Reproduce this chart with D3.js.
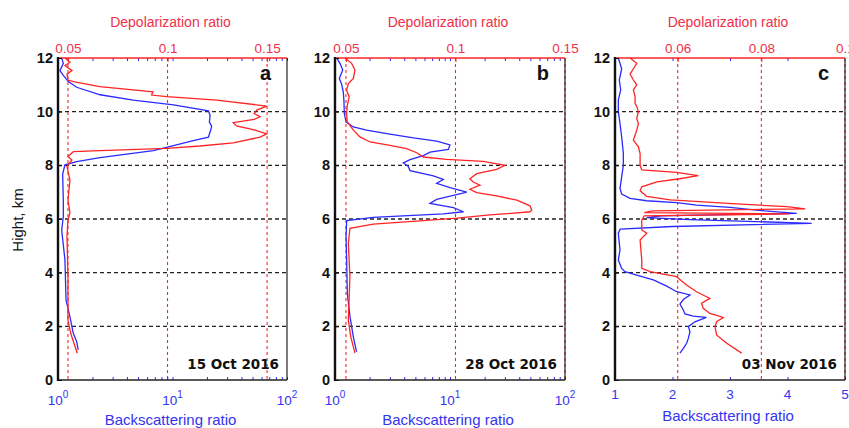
<!DOCTYPE html>
<html>
<head>
  <script src="https://d3js.org/d3.v7.min.js"></script>
  <style>
    body { margin: 0; background: #fff; }
    text { font-family: "Liberation Sans", Arial, sans-serif; }
    .ytick text { font-size: 14.5px; font-weight: bold; fill: #111; }
    .dtick text { font-size: 13.5px; fill: #f03048; }
    .btick { font-size: 13.5px; fill: #3434f0; }
    .dtitle { font-size: 14px; fill: #f03048; }
    .btitle { font-size: 15px; fill: #3434f0; }
    .letter { font-size: 20px; font-weight: bold; fill: #111; }
    .date { font-family: "DejaVu Sans", Verdana, sans-serif; font-size: 13.5px; font-weight: bold; fill: #111; }
  </style>
</head>
<body>
  <svg id="chart" width="849" height="428"></svg>
  <script>
    // tick values and labels
    var heightTicks = [0, 2, 4, 6, 8, 10, 12];
    var gridHeights = [2, 4, 6, 8, 10];
    var depolTicksAB = [0.05, 0.1, 0.15];
    var depolTicksC = [0.06, 0.08, 0.1];
    var bsrTicksLog = [1, 10, 100];
    var bsrTicksC = [1, 2, 3, 4, 5];
    var panelLetters = ['a', 'b', 'c'];
    var panelDates = ['15 Oct 2016', '28 Oct 2016', '03 Nov 2016'];

    // profiles: [height km, value]
    var depolA = [[12, 0.0485], [11.84, 0.051], [11.72, 0.0485], [11.53, 0.052], [11.4, 0.0495], [11.18, 0.050],
      [11.12, 0.0527], [10.93, 0.066], [10.81, 0.0827], [10.74, 0.0927], [10.62, 0.092], [10.56, 0.0996],
      [10.43, 0.1247], [10.21, 0.1498], [10.06, 0.1448], [9.93, 0.1435], [9.81, 0.1465], [9.71, 0.1435],
      [9.59, 0.133], [9.47, 0.1347], [9.32, 0.1435], [9.17, 0.1498], [9.05, 0.1465], [8.84, 0.133],
      [8.72, 0.1163], [8.63, 0.0996], [8.55, 0.066], [8.51, 0.0527], [8.33, 0.050], [8.2, 0.052],
      [7.96, 0.0495], [7.45, 0.051], [6.71, 0.050], [6.22, 0.051], [5.96, 0.050], [5.34, 0.0495],
      [3.85, 0.050], [2.23, 0.050], [1.74, 0.0514], [1.37, 0.053], [1.0, 0.0547]];
    var bsrA = [[12, 1.077], [11.8, 1.113], [11.53, 1.041], [11.35, 1.113], [11.12, 1.23], [10.91, 1.456],
      [10.63, 2.33], [10.43, 4.55], [10.25, 10.2], [10.03, 20.6], [9.86, 21.3], [9.61, 21.0], [9.45, 22.0],
      [9.24, 21.3], [9.05, 20.6], [8.92, 15.2], [8.73, 10.2], [8.55, 6.8], [8.42, 3.98], [8.29, 2.33],
      [8.14, 1.456], [8.02, 1.15], [7.67, 1.098], [6.67, 1.113], [6.09, 1.113], [5.59, 1.077], [4.47, 1.15],
      [2.98, 1.175], [2.36, 1.27], [1.74, 1.36], [1.43, 1.456], [1.12, 1.5]];
    var depolB = [[12, 0.0496], [11.8, 0.0526], [11.55, 0.0541], [11.24, 0.0534], [11.05, 0.0511], [10.8, 0.0503],
      [10.55, 0.0515], [10.24, 0.0506], [9.93, 0.0503], [9.62, 0.0506], [9.31, 0.0534], [9.06, 0.0564],
      [8.87, 0.061], [8.74, 0.0701], [8.62, 0.0777], [8.47, 0.0823], [8.31, 0.0853], [8.22, 0.096],
      [8.15, 0.1127], [8.0, 0.1226], [7.85, 0.1188], [7.69, 0.1097], [7.5, 0.1066], [7.38, 0.1081],
      [7.26, 0.1112], [7.11, 0.1066], [6.98, 0.1097], [6.86, 0.1188], [6.7, 0.128], [6.49, 0.134],
      [6.33, 0.1348], [6.27, 0.134], [6.15, 0.1158], [6.03, 0.1006], [5.94, 0.0853], [5.81, 0.0625],
      [5.65, 0.0518], [5.09, 0.0511], [3.85, 0.0518], [2.23, 0.0511], [1.61, 0.0522], [1.0, 0.0541]];
    var bsrB = [[12, 1.034], [11.8, 1.105], [11.55, 1.167], [11.24, 1.09], [11.02, 1.143], [10.74, 1.18],
      [10.37, 1.197], [9.93, 1.205], [9.62, 1.247], [9.43, 1.443], [9.31, 1.885], [9.18, 2.82], [9.02, 4.8],
      [8.9, 7.66], [8.76, 10.0], [8.59, 9.67], [8.49, 6.7], [8.36, 5.86], [8.21, 4.49], [8.09, 3.93],
      [7.96, 4.34], [7.8, 4.49], [7.61, 7.16], [7.48, 8.75], [7.33, 7.66], [7.17, 10.0], [7.0, 14.0],
      [6.88, 10.7], [6.73, 7.66], [6.58, 6.7], [6.42, 10.7], [6.27, 13.1], [6.19, 8.75], [6.06, 2.15],
      [5.94, 1.263], [5.34, 1.247], [4.47, 1.263], [3.23, 1.28], [2.36, 1.35], [1.61, 1.443], [1.05, 1.54]];
    var depolC = [[12, 0.0486], [11.8, 0.0502], [11.6, 0.0494], [11.4, 0.0486], [11.18, 0.0494], [11.0, 0.0502],
      [10.81, 0.0494], [10.56, 0.0498], [10.31, 0.0498], [10.19, 0.0502], [10.0, 0.0506], [9.75, 0.0502],
      [9.56, 0.0506], [9.31, 0.0502], [9.12, 0.0498], [8.94, 0.0494], [8.69, 0.0506], [8.44, 0.051],
      [8.0, 0.051], [7.83, 0.0514], [7.74, 0.0597], [7.62, 0.0649], [7.5, 0.0605], [7.38, 0.055],
      [7.2, 0.0514], [7.05, 0.051], [6.84, 0.0526], [6.71, 0.0582], [6.56, 0.0741], [6.46, 0.0861],
      [6.38, 0.0905], [6.3, 0.054], [6.24, 0.052], [6.19, 0.0868], [6.12, 0.052], [5.96, 0.0514],
      [5.59, 0.0514], [5.47, 0.0526], [5.22, 0.051], [4.47, 0.0514], [4.16, 0.0514], [4.04, 0.0534],
      [3.85, 0.0597], [3.54, 0.0621], [3.29, 0.0645], [3.04, 0.0677], [2.86, 0.0657], [2.67, 0.0661],
      [2.48, 0.0677], [2.33, 0.0709], [2.17, 0.0693], [1.99, 0.0689], [1.68, 0.0693], [1.37, 0.0717],
      [1.0, 0.0753]];
    var bsrC = [[12, 1.058], [11.6, 1.116], [11.18, 1.075], [10.81, 1.099], [10.43, 1.058], [10.0, 1.058],
      [9.56, 1.087], [9.06, 1.116], [8.44, 1.145], [8.0, 1.145], [7.57, 1.116], [7.14, 1.087], [6.93, 1.116],
      [6.77, 1.261], [6.68, 1.551], [6.61, 2.073], [6.52, 2.42], [6.43, 3.0], [6.3, 3.6], [6.21, 4.16],
      [6.12, 1.8], [6.05, 1.55], [5.98, 2.3], [5.84, 4.42], [5.72, 2.0], [5.62, 1.09], [5.47, 1.058],
      [4.84, 1.087], [4.47, 1.058], [4.16, 1.116], [4.04, 1.174], [3.91, 1.377], [3.73, 1.667], [3.5, 1.899],
      [3.29, 2.073], [3.17, 2.304], [3.0, 2.188], [2.83, 2.13], [2.61, 2.188], [2.46, 2.217], [2.38, 2.36],
      [2.33, 2.59], [2.17, 2.39], [1.99, 2.275], [1.8, 2.304], [1.55, 2.275], [1.37, 2.246], [1.18, 2.188],
      [1.0, 2.13]];

    var RED = '#ff2424';
    var BLUE = '#2a2aff';
    var plotTop = 58, plotBottom = 380;

    var panels = [
      { x0: 58, w: 229, depDomain: [0.045, 0.16], depTicks: depolTicksAB, log: true, bsrDomain: [1, 100],
        bsrTicks: bsrTicksLog, dep: depolA, bsr: bsrA, tickY: 405, titleY: 425 },
      { x0: 335, w: 230, depDomain: [0.045, 0.15], depTicks: depolTicksAB, log: true, bsrDomain: [1, 100],
        bsrTicks: bsrTicksLog, dep: depolB, bsr: bsrB, tickY: 405, titleY: 425 },
      { x0: 615, w: 230, depDomain: [0.045, 0.1], depTicks: depolTicksC, log: false, bsrDomain: [1, 5],
        bsrTicks: bsrTicksC, dep: depolC, bsr: bsrC, tickY: 399, titleY: 421 }
    ];

    var svg = d3.select('#chart');
    svg.append('rect').attr('width', 849).attr('height', 428).attr('fill', '#fff');

    var y = d3.scaleLinear().domain([0, 12]).range([plotBottom, plotTop]);

    panels.forEach(function (p, i) {
      var g = svg.append('g').attr('transform', 'translate(' + p.x0 + ',0)');
      var xd = d3.scaleLinear().domain(p.depDomain).range([0, p.w]);
      var xb = (p.log ? d3.scaleLog() : d3.scaleLinear()).domain(p.bsrDomain).range([0, p.w]);

      // grid
      g.selectAll('.hgrid').data(gridHeights).enter().append('line')
        .attr('x1', 0).attr('x2', p.w)
        .attr('y1', function (d) { return y(d); }).attr('y2', function (d) { return y(d); })
        .attr('stroke', '#222').attr('stroke-width', 1.3).attr('stroke-dasharray', '4,3');
      g.selectAll('.vgrid').data(p.depTicks).enter().append('line')
        .attr('x1', function (d) { return xd(d); }).attr('x2', function (d) { return xd(d); })
        .attr('y1', plotTop).attr('y2', plotBottom)
        .attr('stroke', RED).attr('stroke-width', 1.1).attr('stroke-dasharray', '3,3');

      // blue minor ticks top and bottom
      var bt = p.log ? xb.ticks() : p.bsrTicks;
      g.append('g').attr('transform', 'translate(0,' + plotBottom + ')')
        .call(d3.axisBottom(xb).tickValues(bt).tickSize(-3).tickFormat(''))
        .call(function (s) { s.select('.domain').remove(); s.selectAll('line').attr('stroke', BLUE); });
      g.append('g').attr('transform', 'translate(0,' + plotTop + ')')
        .call(d3.axisTop(xb).tickValues(bt).tickSize(-3).tickFormat(''))
        .call(function (s) { s.select('.domain').remove(); s.selectAll('line').attr('stroke', BLUE); });

      // profiles
      var lineB = d3.line().x(function (d) { return xb(d[1]); }).y(function (d) { return y(d[0]); });
      var lineD = d3.line().x(function (d) { return xd(d[1]); }).y(function (d) { return y(d[0]); });
      g.append('path').datum(p.bsr).attr('d', lineB)
        .attr('fill', 'none').attr('stroke', BLUE).attr('stroke-width', 1.3);
      g.append('path').datum(p.dep).attr('d', lineD)
        .attr('fill', 'none').attr('stroke', RED).attr('stroke-width', 1.3);

      // frame
      g.append('line').attr('x1', p.w).attr('x2', p.w).attr('y1', plotTop).attr('y2', plotBottom)
        .attr('stroke', '#222').attr('stroke-width', 1.2);
      g.append('line').attr('x1', 0).attr('x2', p.w).attr('y1', plotBottom).attr('y2', plotBottom)
        .attr('stroke', '#222').attr('stroke-width', 1.5);
      g.append('line').attr('x1', 0).attr('x2', p.w).attr('y1', plotTop).attr('y2', plotTop)
        .attr('stroke', RED).attr('stroke-width', 1.5);
      g.append('line').attr('x1', 0).attr('x2', 0).attr('y1', plotTop - 1).attr('y2', plotBottom + 1)
        .attr('stroke', '#111').attr('stroke-width', 2.4);

      // left axis
      g.append('g').attr('class', 'ytick')
        .call(d3.axisLeft(y).tickValues(heightTicks).tickSize(-4).tickPadding(5))
        .call(function (s) { s.select('.domain').remove(); s.selectAll('line').attr('stroke', '#111'); });

      // top depolarization axis
      g.append('g').attr('class', 'dtick').attr('transform', 'translate(0,' + plotTop + ')')
        .call(d3.axisTop(xd).tickValues(p.depTicks).tickSize(-4).tickPadding(5).tickFormat(d3.format('~g')))
        .call(function (s) {
          s.select('.domain').remove();
          s.selectAll('line').attr('stroke', RED);
          s.selectAll('text').attr('fill', '#f03048');
        });

      // bottom backscatter labels
      var lab = g.selectAll('.blab').data(p.bsrTicks).enter().append('text')
        .attr('class', 'btick')
        .attr('x', function (d) { return xb(d); })
        .attr('y', p.tickY)
        .attr('text-anchor', 'middle');
      if (p.log) {
        lab.text('10').append('tspan')
          .attr('dy', -7).attr('font-size', 10)
          .text(function (d) { return Math.round(Math.log10(d)); });
      } else {
        lab.text(function (d) { return d; });
      }

      g.append('text').attr('class', 'dtitle').attr('x', p.w / 2 - 2).attr('y', 27)
        .attr('text-anchor', 'middle').text('Depolarization ratio');
      g.append('text').attr('class', 'btitle').attr('x', p.w / 2 - 2).attr('y', p.titleY)
        .attr('text-anchor', 'middle').text('Backscattering ratio');
      g.append('text').attr('class', 'letter').attr('x', p.w - 16).attr('y', 80)
        .attr('text-anchor', 'end').text(panelLetters[i]);
      g.append('text').attr('class', 'date').attr('x', p.w - 8).attr('y', 369)
        .attr('text-anchor', 'end').text(panelDates[i]);
    });

    svg.append('text')
      .attr('transform', 'translate(23,220) rotate(-90)')
      .attr('text-anchor', 'middle')
      .style('font-size', '15px')
      .style('fill', '#111')
      .text('Hight, km');
  </script>
</body>
</html>
